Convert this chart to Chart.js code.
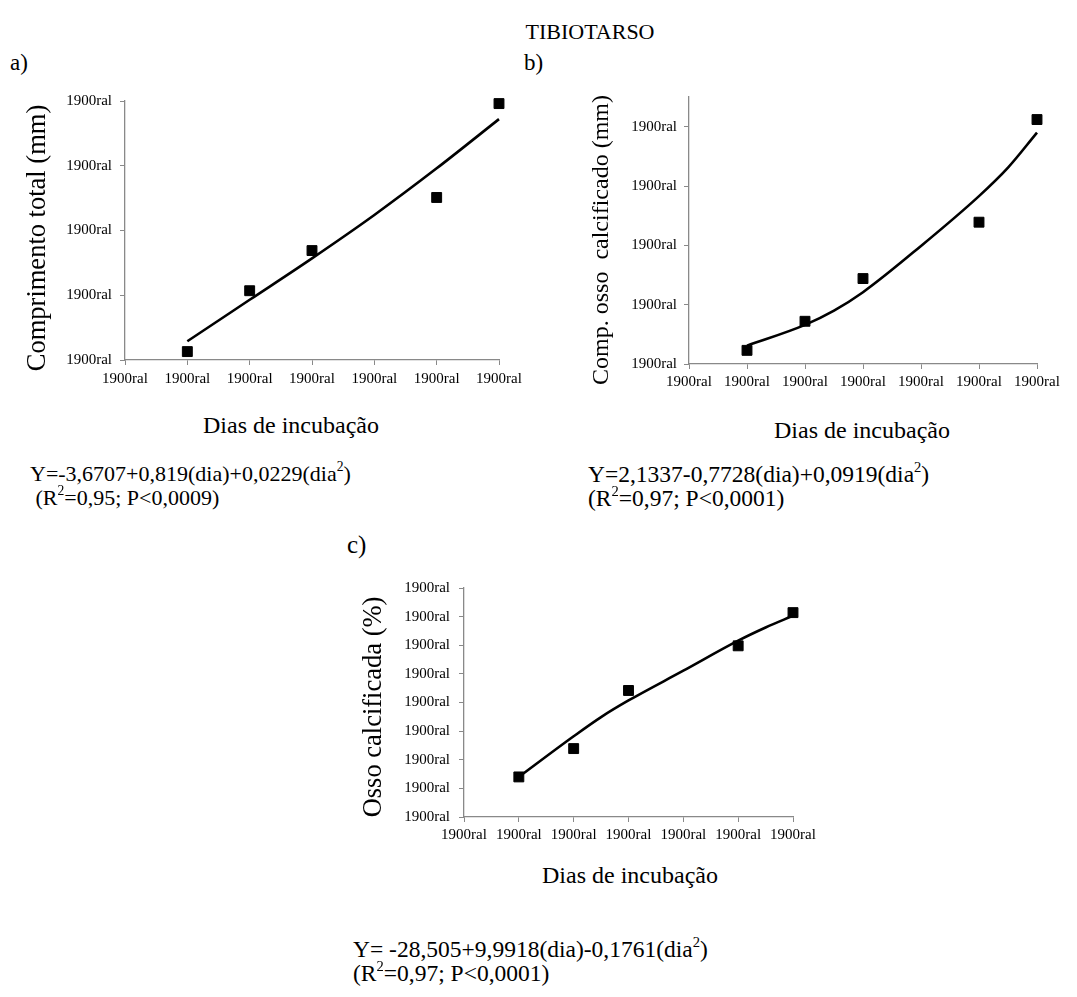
<!DOCTYPE html>
<html><head><meta charset="utf-8">
<script src="https://cdn.jsdelivr.net/npm/chart.js@4.4.1/dist/chart.umd.min.js"></script>
<style>
html,body{margin:0;padding:0;background:#fff;}
#page{position:relative;width:1077px;height:997px;overflow:hidden;font-family:"Liberation Serif","Times New Roman",serif;color:#000;background:#fff;}
.t{position:absolute;white-space:pre;line-height:1;}
.c{transform:translate(-50%,-50%);}
.rot{transform:translate(-50%,-50%) rotate(-90deg);}
.eq{position:absolute;white-space:pre;}
.eq sup{font-size:0.62em;line-height:0;position:relative;top:-0.1em;}
canvas{position:absolute;}
</style></head>
<body><div id="page">
<div class="t c" style="left:590px;top:32px;font-size:22px;">TIBIOTARSO</div>
<div class="t" style="left:10px;top:51px;font-size:23px;">a)</div>
<div class="t" style="left:524px;top:51px;font-size:23px;">b)</div>
<div class="t" style="left:347px;top:532px;font-size:25px;">c)</div>

<canvas id="ca" width="540" height="330" style="left:0px;top:80px;"></canvas>
<canvas id="cb" width="537" height="330" style="left:540px;top:80px;"></canvas>
<canvas id="cc" width="500" height="290" style="left:340px;top:570px;"></canvas>

<div class="t rot" style="left:36px;top:238px;font-size:26.5px;">Comprimento total (mm)</div>
<div class="t c" style="left:291px;top:425px;font-size:24px;">Dias de incubação</div>
<div class="t rot" style="left:600px;top:240px;font-size:24px;">Comp. osso  calcificado (mm)</div>
<div class="t c" style="left:862px;top:430px;font-size:24px;">Dias de incubação</div>
<div class="t rot" style="left:372px;top:707px;font-size:26.5px;">Osso calcificada (%)</div>
<div class="t c" style="left:630px;top:875px;font-size:24px;">Dias de incubação</div>

<div class="eq" style="left:30px;top:462px;font-size:22px;line-height:24px;">Y=-3,6707+0,819(dia)+0,0229(dia<sup>2</sup>)
 (R<sup>2</sup>=0,95; P&lt;0,0009)</div>
<div class="eq" style="left:588px;top:462px;font-size:23.5px;line-height:24px;">Y=2,1337-0,7728(dia)+0,0919(dia<sup>2</sup>)
(R<sup>2</sup>=0,97; P&lt;0,0001)</div>
<div class="eq" style="left:353px;top:937px;font-size:23.5px;line-height:24px;">Y= -28,505+9,9918(dia)-0,1761(dia<sup>2</sup>)
(R<sup>2</sup>=0,97; P&lt;0,0001)</div>
</div>
<script>
// ---- data (in axis units) ----
const dias = [10, 12, 14, 18, 20];
const diasTicks = [8, 10, 12, 14, 16, 18, 20];
const tickLabel = "1900ral";

const compTotal = [1.3, 10.7, 16.9, 25.1, 39.6];
const compTotalFitDias = [10, 12, 14, 16, 18, 20];
const compTotalFit = [2.9, 9.3, 15.7, 22.4, 29.6, 37.2];
const compTotalTicks = [0, 10, 20, 30, 40];

const compCalc = [2.3, 7.2, 14.4, 23.9, 41.2];
const compCalcFitDias = [10, 12, 13, 14, 16, 18, 19, 20];
const compCalcFit = [3.1, 6.6, 9.0, 12.1, 19.9, 28.3, 33.1, 39.0];
const compCalcTicks = [0, 10, 20, 30, 40];

const ossoCalc = [14.0, 23.9, 44.2, 59.8, 71.4];
const ossoCalcFitDias = [10, 12, 13, 14, 16, 18, 19, 20];
const ossoCalcFit = [14.0, 28.2, 34.9, 40.7, 51.1, 61.6, 66.2, 70.3];
const ossoCalcTicks = [0, 10, 20, 30, 40, 50, 60, 70, 80];

Chart.defaults.font.family = '"Liberation Serif","Times New Roman",serif';
const pairs = (xs, ys) => xs.map((x, i) => ({x: x, y: ys[i]}));
const AXIS = '#898989';

function makeChart(id, c) {
  const font = {family: '"Liberation Serif","Times New Roman",serif', size: 15};
  return new Chart(document.getElementById(id), {
    type: 'scatter',
    data: {datasets: [
      {data: pairs(c.fitX, c.fitY), showLine: true, borderColor: '#000', borderWidth: 2.6,
       pointRadius: 0, cubicInterpolationMode: 'monotone', fill: false, clip: false, order: 2},
      {data: pairs(dias, c.pts), showLine: false, pointStyle: 'rect', pointRadius: 7,
       backgroundColor: '#000', borderColor: '#000', borderWidth: 1, clip: false, order: 1}
    ]},
    options: {
      responsive: false, animation: false, devicePixelRatio: 1,
      layout: {padding: {left: 0, right: c.padRight, top: c.padTop, bottom: 0}},
      plugins: {legend: {display: false}, tooltip: {enabled: false}},
      scales: {
        x: {type: 'linear', min: 8, max: 20,
          afterBuildTicks: s => { s.ticks = diasTicks.map(v => ({value: v})); },
          afterFit: s => { s.height = c.xH; },
          ticks: {callback: () => tickLabel, font: font, color: '#000', padding: c.xPad, maxRotation: 0, autoSkip: false},
          grid: {drawOnChartArea: false, drawTicks: true, tickLength: 5, color: AXIS, lineWidth: 1},
          border: {color: AXIS, width: 1.3}},
        y: {type: 'linear', min: 0, max: c.yMax,
          afterBuildTicks: s => { s.ticks = c.yTicks.map(v => ({value: v})); },
          afterFit: s => { s.width = c.yW; },
          ticks: {callback: () => tickLabel, font: font, color: '#000', padding: c.yPad, autoSkip: false},
          grid: {drawOnChartArea: false, drawTicks: true, tickLength: 5, color: AXIS, lineWidth: 1},
          border: {color: AXIS, width: 1.3}}
      }
    }
  });
}

makeChart('ca', {fitX: compTotalFitDias, fitY: compTotalFit, pts: compTotal, yTicks: compTotalTicks, yMax: 40,
  padRight: 41, padTop: 21, xH: 50, yW: 125, xPad: 5, yPad: 8});
makeChart('cb', {fitX: compCalcFitDias, fitY: compCalcFit, pts: compCalc, yTicks: compCalcTicks, yMax: 45,
  padRight: 40, padTop: 17, xH: 46, yW: 149, xPad: 4, yPad: 7});
makeChart('cc', {fitX: ossoCalcFitDias, fitY: ossoCalcFit, pts: ossoCalc, yTicks: ossoCalcTicks, yMax: 80,
  padRight: 47, padTop: 17, xH: 43, yW: 124, xPad: 4, yPad: 9});
</script>
</body></html>
